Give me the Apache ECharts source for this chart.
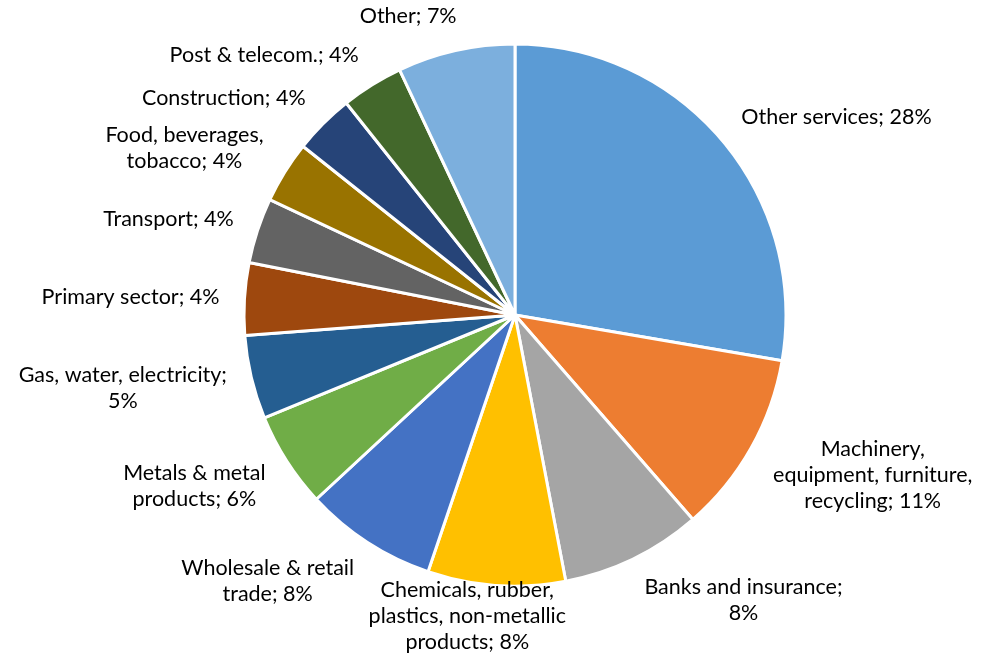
<!DOCTYPE html>
<html><head><meta charset="utf-8">
<script src="https://cdn.jsdelivr.net/npm/echarts@6/dist/echarts.min.js"></script>
<style>html,body{margin:0;padding:0;background:#fff}#c{width:983px;height:657px}</style>
</head><body><div id="c"></div>
<script>
var categories = ["Other services","Machinery, equipment, furniture, recycling","Banks and insurance","Chemicals, rubber, plastics, non-metallic products","Wholesale & retail trade","Metals & metal products","Gas, water, electricity","Primary sector","Transport","Food, beverages, tobacco","Construction","Post & telecom.","Other"];
var labelLines = ["Other services","Machinery,\nequipment, furniture,\nrecycling","Banks and insurance;\n","Chemicals, rubber,\nplastics, non-metallic\nproducts","Wholesale & retail\ntrade","Metals & metal\nproducts","Gas, water, electricity;\n","Primary sector","Transport","Food, beverages,\ntobacco","Construction","Post & telecom.","Other"];
var values = [27.7,10.9,8.4,8.2,7.9,5.7,5.0,4.3,3.9,3.7,3.6,3.7,7.0];
var colors = ["#5B9BD5","#ED7D31","#A5A5A5","#FFC000","#4472C4","#70AD47","#255E91","#9E480E","#636363","#997300","#264478","#43682B","#7CAFDD"];

var total = values.reduce(function(a,b){return a+b;},0);
var CX = 515, CY = 315, R = 271, W = 983, H = 657;
var chart = echarts.init(document.getElementById('c'));
chart.setOption({
  animation:false,
  series:[{
    type:'pie',
    center:[CX,CY],
    radius:R,
    startAngle:90,
    clockwise:true,
    avoidLabelOverlap:false,
    itemStyle:{borderColor:'#fff',borderWidth:3},
    label:{show:true,position:'outside',color:'#000',fontFamily:'Lato',fontSize:21.5,lineHeight:26,align:'center',
      formatter:function(p){
        var t = labelLines[p.dataIndex];
        var pc = Math.round(p.value/total*100) + '%';
        if (t.charAt(t.length-1) === '\n') return t + pc;
        return t + '; ' + pc;
      }},
    labelLine:{show:false},
    labelLayout:function(p){
      var i = p.dataIndex, cum = 0;
      for (var j=0;j<i;j++) cum += values[j];
      var th = 2*Math.PI*(cum + values[i]/2)/total;
      var ux = Math.sin(th), uy = -Math.cos(th);
      var d = 25;
      var w = p.labelRect.width, h = p.labelRect.height;
      var cx = Math.max(-1,Math.min(1,ux*4)), cy = Math.max(-1,Math.min(1,uy*0.8));
      var x = CX + (R+d)*ux + w/2*cx;
      var y = CY + (R+d)*uy + h/2*cy;
      x = Math.max(w/2+2, Math.min(W-w/2-2, x));
      y = Math.max(h/2+2, Math.min(H-h/2-2, y));
      return {x:x, y:y, align:'center', verticalAlign:'middle'};
    },
    data: categories.map(function(c,i){return {name:c,value:values[i],itemStyle:{color:colors[i]}};})
  }]
});
</script></body></html>
